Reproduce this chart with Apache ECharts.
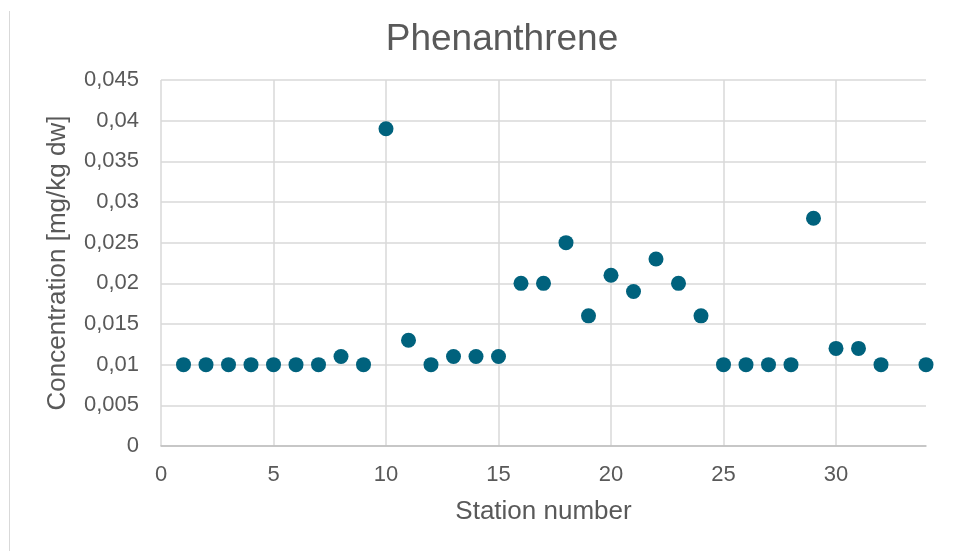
<!DOCTYPE html>
<html>
<head>
<meta charset="utf-8">
<script src="https://cdn.jsdelivr.net/npm/echarts@6/dist/echarts.min.js"></script>
<style>
html,body{margin:0;padding:0;background:#fff;}
#main{width:957px;height:551px;}
</style>
</head>
<body>
<div id="main"></div>
<script>
var stations = [1,2,3,4,5,6,7,8,9,10,11,12,13,14,15,16,17,18,19,20,21,22,23,24,25,26,27,28,29,30,31,32,34];
var concentrations = [0.010,0.010,0.010,0.010,0.010,0.010,0.010,0.011,0.010,0.039,0.013,0.010,0.011,0.011,0.011,0.020,0.020,0.025,0.016,0.021,0.019,0.023,0.020,0.016,0.010,0.010,0.010,0.010,0.028,0.012,0.012,0.010,0.010];
var titleText = 'Phenanthrene';
var xName = 'Station number';
var yName = 'Concentration [mg/kg dw]';

var points = stations.map(function(s, i){ return [s, concentrations[i]]; });
var FONT = '"Liberation Sans", Arial, sans-serif';
var TXT = '#595959';
var GRID = '#d9d9d9';

var chart = echarts.init(document.getElementById('main'), null, {renderer:'canvas'});
chart.setOption({
  backgroundColor:'#ffffff',
  animation:false,
  title:{
    text:titleText, left:497, top:16, textAlign:'center',
    textStyle:{fontFamily:FONT, fontSize:37, fontWeight:'normal', color:TXT}
  },
  graphic:[{
    type:'line', shape:{x1:9.5,y1:11,x2:9.5,y2:551},
    style:{stroke:GRID, lineWidth:1}, silent:true
  }],
  grid:{left:161, right:31, top:80, bottom:105, containLabel:false},
  xAxis:{
    type:'value', min:0, max:34, interval:5,
    name:xName, nameLocation:'middle', nameGap:53,
    nameTextStyle:{fontFamily:FONT, fontSize:26, color:TXT},
    axisLine:{show:true, lineStyle:{color:'#bfbfbf', width:1.5}},
    axisTick:{show:false},
    axisLabel:{fontFamily:FONT, fontSize:22, color:TXT, margin:18, showMaxLabel:false},
    splitLine:{show:true, lineStyle:{color:[GRID,GRID,GRID,GRID,GRID,GRID,GRID,'rgba(0,0,0,0)'], width:1.5}}
  },
  yAxis:{
    type:'value', min:0, max:0.045, interval:0.005,
    name:yName, nameLocation:'middle', nameGap:90, nameRotate:90,
    nameTextStyle:{fontFamily:FONT, fontSize:26, color:TXT},
    axisLine:{show:false}, axisTick:{show:false},
    axisLabel:{fontFamily:FONT, fontSize:22, color:TXT, margin:22,
      formatter:function(v){ return String(+v.toFixed(4)).replace('.', ','); }},
    splitLine:{show:true, lineStyle:{color:GRID, width:1.5}}
  },
  series:[{
    type:'scatter', data:points, symbol:'circle', symbolSize:15,
    itemStyle:{color:'#00627d', opacity:1}
  }]
});
</script>
</body>
</html>
